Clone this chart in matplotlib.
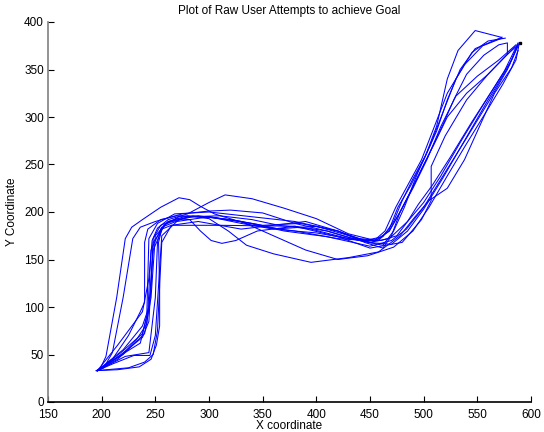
import matplotlib
matplotlib.use("Agg")
import matplotlib.pyplot as plt

plt.rcParams['font.family'] = ['Liberation Sans', 'DejaVu Sans']

# Raw user attempt trajectories (x, y)
t1_x = [195, 199, 204, 214, 222, 228, 238, 255, 272, 282, 292, 305, 340, 380, 420, 445, 462, 472, 480, 490, 502, 512, 522, 532, 548, 572]
t1_y = [33, 36, 48, 110, 172, 184, 192, 205, 215, 213, 206, 198, 186, 180, 172, 170, 174, 190, 212, 235, 260, 290, 340, 370, 391, 384]

t2_x = [196, 202, 210, 220, 229, 236, 250, 275, 300, 320, 350, 380, 410, 440, 458, 468, 476, 488, 500, 512, 522, 534, 548, 573]
t2_y = [33, 36, 52, 110, 172, 184, 190, 198, 201, 202, 199, 188, 180, 170, 170, 182, 205, 228, 255, 285, 318, 350, 372, 384]

t3_x = [196, 210, 225, 236, 240, 240, 243, 255, 270, 300, 340, 370, 400, 430, 452, 464, 474, 486, 498, 510, 522, 538, 555, 573]
t3_y = [33, 45, 70, 95, 105, 168, 182, 192, 196, 195, 188, 181, 178, 172, 168, 180, 205, 230, 255, 290, 325, 355, 375, 383]

t4_x = [195, 215, 235, 246, 251, 254, 254, 253, 256, 265, 310, 380, 420, 450, 480, 498, 507, 507, 520, 540, 560, 577, 588]
t4_y = [33, 34, 37, 45, 60, 80, 120, 168, 182, 186, 186, 185, 174, 162, 168, 192, 212, 248, 280, 318, 345, 365, 376]

t5_x = [196, 215, 232, 242, 246, 248, 255, 270, 282, 292, 302, 312, 325, 345, 380, 410, 440, 462, 472, 482, 494, 506, 518, 530, 545, 560, 576]
t5_y = [33, 45, 65, 82, 120, 172, 186, 193, 192, 180, 170, 167, 170, 180, 185, 180, 170, 165, 180, 205, 240, 270, 305, 340, 368, 380, 383]

t6_x = [196, 220, 240, 246, 250, 262, 280, 300, 318, 335, 360, 395, 430, 458, 478, 492, 505, 522, 538, 552, 566, 582, 588]
t6_y = [33, 50, 72, 110, 175, 190, 196, 193, 180, 165, 156, 147, 152, 158, 175, 195, 212, 225, 255, 290, 325, 352, 370]

t7_x = [196, 220, 238, 244, 248, 258, 272, 300, 330, 360, 390, 420, 448, 472, 490, 505, 522, 540, 558, 574, 586, 589]
t7_y = [33, 55, 80, 100, 160, 186, 195, 195, 190, 175, 160, 150, 154, 163, 180, 205, 238, 272, 305, 335, 360, 377]

t8_x = [196, 215, 238, 244, 247, 252, 262, 280, 300, 315, 340, 370, 400, 430, 455, 468, 478, 490, 503, 516, 530, 550, 570, 586]
t8_y = [33, 60, 95, 130, 170, 183, 192, 198, 210, 218, 214, 204, 193, 177, 170, 180, 200, 225, 255, 290, 322, 343, 360, 376]

t9_x = [196, 222, 244, 250, 252, 255, 262, 290, 330, 370, 410, 450, 470, 484, 500, 518, 540, 560, 578, 588]
t9_y = [33, 48, 52, 110, 168, 182, 190, 196, 190, 180, 174, 164, 170, 182, 205, 238, 278, 315, 350, 376]

t10_x = [196, 218, 238, 243, 246, 256, 280, 310, 340, 365, 395, 430, 456, 468, 478, 488, 498, 510, 522, 540, 560, 585]
t10_y = [33, 52, 72, 95, 160, 184, 195, 196, 192, 186, 182, 172, 170, 180, 200, 222, 245, 272, 300, 325, 345, 374]

t11_x = [196, 218, 238, 244, 248, 260, 285, 320, 350, 385, 420, 450, 468, 485, 500, 516, 535, 555, 575, 588]
t11_y = [33, 50, 68, 85, 168, 188, 196, 192, 186, 188, 180, 168, 172, 190, 210, 238, 275, 312, 348, 378]

t12_x = [196, 216, 236, 242, 244, 252, 268, 300, 340, 380, 420, 448, 470, 485, 500, 518, 538, 560, 580, 588]
t12_y = [33, 48, 62, 90, 172, 188, 198, 200, 195, 190, 180, 168, 166, 180, 203, 236, 275, 318, 355, 377]

t13_x = [195, 225, 240, 248, 252, 256, 265, 290, 330, 360, 390, 420, 445, 462, 470, 478, 488, 498, 508, 518, 528, 540, 556, 570, 578, 578]
t13_y = [33, 36, 42, 50, 75, 168, 186, 190, 182, 186, 190, 180, 168, 162, 175, 200, 222, 245, 268, 292, 318, 345, 365, 376, 378, 366]

t14_x = [196, 210, 230, 245, 250, 256, 270, 300, 330, 360, 400, 440, 460, 475, 485, 495, 508, 525, 545, 565, 582, 588]
t14_y = [33, 40, 49, 49, 70, 175, 190, 195, 188, 182, 185, 172, 170, 175, 190, 208, 228, 258, 295, 330, 360, 375]

xs = [t1_x, t2_x, t3_x, t4_x, t5_x, t6_x, t7_x, t8_x, t9_x, t10_x, t11_x, t12_x, t13_x, t14_x]
ys = [t1_y, t2_y, t3_y, t4_y, t5_y, t6_y, t7_y, t8_y, t9_y, t10_y, t11_y, t12_y, t13_y, t14_y]

goal_x = [590]
goal_y = [378]

fig = plt.figure(figsize=(5.44, 4.32), dpi=100)
ax = fig.add_axes([48/544, 30/432, 483/544, 380/432])

for x, y in zip(xs, ys):
    ax.plot(x, y, color=(0, 0, 1), linewidth=0.75)
ax.plot(goal_x, goal_y, 's', color='black', markersize=2)

ax.set_xlim(150, 600)
ax.set_ylim(0, 400)
ax.set_xticks(range(150, 601, 50))
ax.set_yticks(range(0, 401, 50))
ax.tick_params(direction='in', length=4, labelsize=8.5, width=0.8)
ax.tick_params(axis='x', pad=5)
ax.tick_params(axis='y', pad=3)
for lbl in ax.get_yticklabels():
    lbl.set_verticalalignment('center_baseline')
ax.spines['top'].set_visible(False)
ax.spines['right'].set_visible(False)
ax.spines['left'].set_color('#808080')
ax.spines['left'].set_linewidth(1.2)
ax.spines['bottom'].set_color('black')
ax.spines['bottom'].set_linewidth(1.2)
ax.set_title('Plot of Raw User Attempts to achieve Goal', fontsize=8.5, pad=6)
ax.set_xlabel('X coordinate', fontsize=8.5, labelpad=-1)
ax.set_ylabel('Y Coordinate', fontsize=8.5, labelpad=4)

fig.savefig('out.png', dpi=100)
